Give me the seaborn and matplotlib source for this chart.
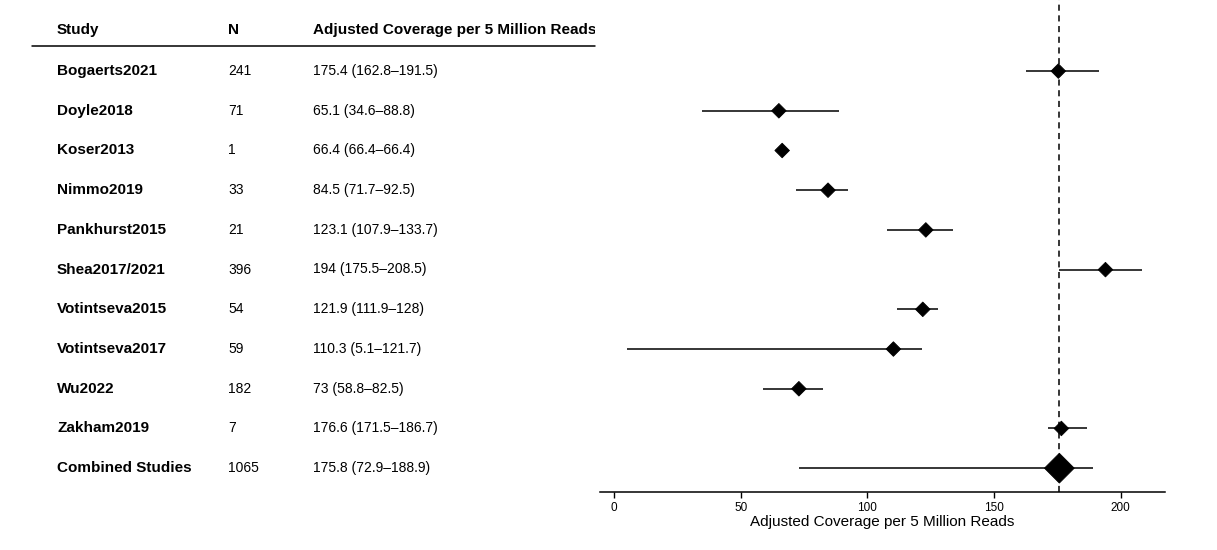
import numpy as np
import pandas as pd
import seaborn as sns
import matplotlib.pyplot as plt
from matplotlib.transforms import Bbox

# =====================================
# DATA
# =====================================

studies = ["Bogaerts2021", "Doyle2018", "Koser2013", "Nimmo2019", "Pankhurst2015",
           "Shea2017/2021", "Votintseva2015", "Votintseva2017", "Wu2022",
           "Zakham2019", "Combined Studies"]
n_samples = [241, 71, 1, 33, 21, 396, 54, 59, 182, 7, 1065]
estimate = [175.4, 65.1, 66.4, 84.5, 123.1, 194, 121.9, 110.3, 73, 176.6, 175.8]
lower = [162.8, 34.6, 66.4, 71.7, 107.9, 175.5, 111.9, 5.1, 58.8, 171.5, 72.9]
upper = [191.5, 88.8, 66.4, 92.5, 133.7, 208.5, 128, 121.7, 82.5, 186.7, 188.9]
labels = ["175.4 (162.8\u2013191.5)", "65.1 (34.6\u201388.8)", "66.4 (66.4\u201366.4)",
          "84.5 (71.7\u201392.5)", "123.1 (107.9\u2013133.7)", "194 (175.5\u2013208.5)",
          "121.9 (111.9\u2013128)", "110.3 (5.1\u2013121.7)", "73 (58.8\u201382.5)",
          "176.6 (171.5\u2013186.7)", "175.8 (72.9\u2013188.9)"]
pooled = 175.8

df = pd.DataFrame({
    "study": studies,
    "n": n_samples,
    "est": estimate,
    "lo": lower,
    "hi": upper,
    "label": labels,
})
df["row"] = np.arange(len(df))
df["kind"] = ["study"] * (len(df) - 1) + ["combined"]

# =====================================
# STYLE
# =====================================

sns.set_style("white")
plt.rcParams["font.family"] = ["Liberation Sans", "DejaVu Sans"]
plt.rcParams["text.color"] = "black"
plt.rcParams["axes.labelcolor"] = "black"
plt.rcParams["xtick.color"] = "black"

W, H = 1217, 550
fig = plt.figure(figsize=(W / 100, H / 100), dpi=100)

# =====================================
# FOREST PANEL
# =====================================

ax = fig.add_axes([600 / W, 1 - 492 / H, 565 / W, 492 / H])

ax.hlines(df["row"], df["lo"], df["hi"], color="black", lw=1.1)
sns.scatterplot(data=df, x="est", y="row", size="kind",
                sizes={"study": 55, "combined": 230}, marker="D",
                color="black", edgecolor="black", legend=False, ax=ax,
                zorder=3)
ax.axvline(pooled, color="black", lw=1.1, ls=(0, (4, 3)), zorder=1)

ax.set_xlim(-5.5, 217.5)
ax.set_ylim(10.6, -1.79)
ax.set_xticks([0, 50, 100, 150, 200])
ax.set_yticks([])
ax.set_ylabel("")
ax.set_xlabel("Adjusted Coverage per 5 Million Reads", fontsize=11, labelpad=1)
ax.tick_params(axis="x", direction="out", length=4, width=1, labelsize=8.5,
               pad=3, bottom=True, color="black")
for side in ["top", "left", "right"]:
    ax.spines[side].set_visible(False)
ax.spines["bottom"].set_color("black")
ax.spines["bottom"].set_linewidth(1.1)

# =====================================
# TABLE PANEL
# =====================================

def fy(py):
    return 1 - py / H

clip = Bbox.from_extents(0, 0, 595, H)

fig.text(57 / W, fy(30), "Study", fontsize=11, fontweight="bold", va="center")
fig.text(228 / W, fy(30), "N", fontsize=11, fontweight="bold", va="center")
hdr = fig.text(313 / W, fy(30), "Adjusted Coverage per 5 Million Reads", fontsize=11,
               fontweight="bold", va="center")
hdr.set_clip_box(clip)
hdr.set_clip_on(True)
fig.add_artist(plt.Line2D([32 / W, 595 / W], [fy(46), fy(46)], color="black", lw=1.1))

row_y = 71
step = 39.7
for i, r in df.iterrows():
    y = fy(row_y + i * step)
    fig.text(57 / W, y, r["study"], fontsize=11, fontweight="bold", va="center")
    fig.text(228 / W, y, str(r["n"]), fontsize=10, va="center")
    fig.text(313 / W, y, r["label"], fontsize=10, va="center")

fig.savefig("out.png", dpi=100)
